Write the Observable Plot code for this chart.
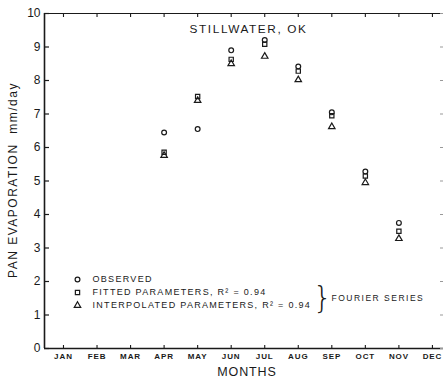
<!DOCTYPE html>
<html><head><meta charset="utf-8">
<script src="https://cdn.jsdelivr.net/npm/d3@7"></script>
<script src="https://cdn.jsdelivr.net/npm/@observablehq/plot@0.6"></script>
<style>
html,body{margin:0;padding:0;background:#fff;}
#chart svg{display:block;}
</style></head><body><div id="chart"></div>
<script>
const months = ["JAN","FEB","MAR","APR","MAY","JUN","JUL","AUG","SEP","OCT","NOV","DEC"];
const monthNums = [1,2,3,4,5,6,7,8,9,10,11,12];
const dataMonths = [4,5,6,7,8,9,10,11];
const observed = [6.45, 6.55, 8.9, 9.21, 8.42, 7.05, 5.28, 3.75];
const fitted = [5.86, 7.52, 8.63, 9.08, 8.28, 6.95, 5.15, 3.5];
const interpolated = [5.76, 7.4, 8.5, 8.72, 8.02, 6.62, 4.95, 3.28];
const yTicks = [0,1,2,3,4,5,6,7,8,9,10];
const title = "STILLWATER, OK";
const xLabel = "MONTHS";
const yLabel = "PAN EVAPORATION  mm/day";
const legendLabels = ["OBSERVED", "FITTED PARAMETERS, R\u00B2 = 0.94", "INTERPOLATED PARAMETERS, R\u00B2 = 0.94"];
const legendSymbols = ["circle", "square", "triangle"];
const braceLabel = "FOURIER SERIES";

const rows = [];
dataMonths.forEach((m, i) => {
  rows.push({month: m, value: observed[i], sym: "circle"});
  rows.push({month: m, value: fitted[i], sym: "square"});
  rows.push({month: m, value: interpolated[i], sym: "triangle"});
});

const xDomain = [0.434, 12.33];
const ink = "#1a1a1a";
const font = "'Liberation Sans', Arial, sans-serif";

const legendMarks = [];
legendLabels.forEach((lab, i) => {
  const dy = -69 + i * 13;
  legendMarks.push(Plot.dot([0], {frameAnchor: "bottom-left", dx: 33, dy, symbol: legendSymbols[i], r: 2.4, stroke: ink, strokeWidth: 1.2, fill: "none"}));
  legendMarks.push(Plot.text([lab], {text: d => d, frameAnchor: "bottom-left", dx: 48, dy, textAnchor: "start", lineAnchor: "middle", fontSize: 9, fill: ink}));
});

const chart = Plot.plot({
  width: 444,
  height: 382,
  marginLeft: 44,
  marginRight: 1,
  marginTop: 13,
  marginBottom: 34,
  style: {fontFamily: font, background: "#fff", color: ink, overflow: "visible"},
  x: {type: "linear", domain: xDomain, axis: null},
  y: {domain: [0, 10], axis: null},
  symbol: {domain: ["circle","square","triangle"], range: ["circle","square","triangle"]},
  marks: [
    Plot.ruleY([0], {stroke: ink, strokeWidth: 1.5}),
    Plot.ruleY([10], {stroke: ink, strokeWidth: 1.1}),
    Plot.ruleX([xDomain[0]], {stroke: ink, strokeWidth: 1.6}),
    Plot.tickY(yTicks, {y: d => d, insetRight: 394, stroke: ink, strokeWidth: 1.2}),
    Plot.tickY(yTicks, {y: d => d, insetLeft: 396, stroke: "#999", strokeWidth: 1}),
    Plot.tickX(monthNums, {x: d => d, insetTop: 332, stroke: ink, strokeWidth: 1.1}),
    Plot.tickX(monthNums, {x: d => d, insetBottom: 331, stroke: ink, strokeWidth: 1.1}),
    Plot.axisY({ticks: yTicks, tickSize: 0, tickPadding: 4, label: null, fontSize: 12, tickFormat: d => String(d)}),
    Plot.axisX({ticks: monthNums, tickSize: 0, tickPadding: 5, label: null, fontSize: 8, fontWeight: "bold", tickFormat: d => months[d - 1]}),
    Plot.text([title], {text: d => d, frameAnchor: "top", dx: 4.5, dy: 16, lineAnchor: "middle", fontSize: 11.8, fill: ink}),
    Plot.text([xLabel], {text: d => d, frameAnchor: "bottom", dx: 3, dy: 23.5, lineAnchor: "middle", fontSize: 12.5, fill: ink}),
    Plot.text([yLabel], {text: d => d, frameAnchor: "left", rotate: -90, dx: -31, dy: -1, textAnchor: "middle", lineAnchor: "middle", fontSize: 12, fill: ink}),
    Plot.dot(rows, {x: "month", y: "value", symbol: "sym", r: 2.4, stroke: ink, strokeWidth: 1.2, fill: "none"}),
    ...legendMarks,
    Plot.text(["}"], {text: d => d, frameAnchor: "bottom-left", dx: 278, dy: -50, textAnchor: "middle", lineAnchor: "middle", fontSize: 30, fontWeight: 200, fill: ink, fontFamily: "'DejaVu Sans', sans-serif"}),
    Plot.text([braceLabel], {text: d => d, frameAnchor: "bottom-left", dx: 287, dy: -50, textAnchor: "start", lineAnchor: "middle", fontSize: 8.5, fill: ink})
  ]
});

// letter spacing applied after rendering, matched by text content
const spacing = new Map();
legendLabels.forEach(l => spacing.set(l, 1.3));
spacing.set(braceLabel, 1.5);
spacing.set(title, 1.6);
spacing.set(xLabel, 0.9);
spacing.set(yLabel, 1.5);
months.forEach(m => spacing.set(m, 0.9));
chart.querySelectorAll("text").forEach(t => {
  const s = spacing.get(t.textContent);
  if (s != null) {
    t.setAttribute("letter-spacing", s + "px");
    t.style.letterSpacing = s + "px";
  }
});
document.getElementById("chart").appendChild(chart);
</script>
</body></html>
